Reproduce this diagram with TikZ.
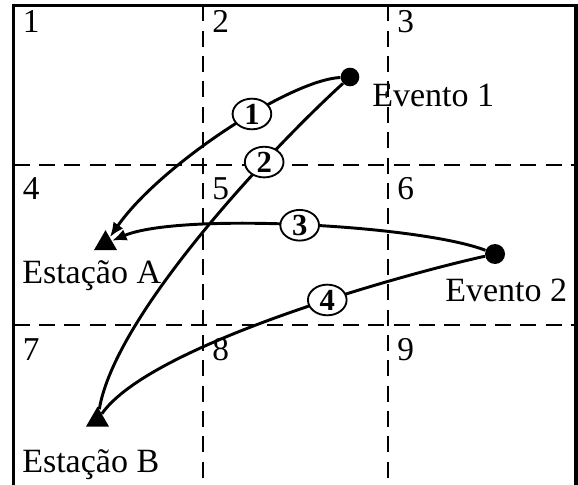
\documentclass[tikz,border=0pt]{standalone}
\usepackage{fontspec}
\setmainfont{Liberation Serif}
\usetikzlibrary{arrows.meta, positioning, calc, shapes.geometric}

\begin{document}
\begin{tikzpicture}[x=0.75pt,y=-0.75pt,
  frame/.style={line width=2.6pt},
  gridline/.style={line width=2.2pt,dash pattern=on 12pt off 7pt},
  evento/.style={circle,fill=black,inner sep=0pt,minimum size=14pt},
  estacao/.style={regular polygon,regular polygon sides=3,fill=black,
                  inner sep=0pt,minimum size=20pt},
  celltxt/.style={font=\fontsize{25}{29}\selectfont,anchor=base west,inner sep=0pt},
  nametxt/.style={font=\fontsize{25.5}{29}\selectfont,anchor=base west,inner sep=0pt},
  raio/.style={line width=2.2pt},
  raioarr/.style={raio,-{Latex[length=11pt,width=9pt]}},
  ordem/.style={ellipse,draw,fill=white,line width=1.4pt,inner sep=0pt,
                minimum width=29pt,minimum height=23pt,
                font=\fontsize{23}{23}\selectfont\bfseries}]

\useasboundingbox (0,0) rectangle (578,485);

% ===== grid of cells =====
\foreach \x in {203,388} \draw[gridline] (\x,5.5) -- (\x,490);
\foreach \y in {165,325} \draw[gridline] (13.5,\y) -- (576,\y);
\draw[frame] (13.5,490) |- (576,5.5) -- (576,490);

\foreach \cx [count=\i from 0] in {13.5,203,388}
  \foreach \by [count=\j from 0] in {33,199,360} {
    \pgfmathtruncatemacro\n{3*\j+\i+1}
    \node[celltxt] (c\n) at (\cx+9,\by) {\n};
  }

% ===== events and stations =====
\node[evento] (ev1) at (350,77) {};
\node[evento,minimum size=15pt] (ev2) at (495,254) {};
\node[estacao] (estA) at (105.5,243.5) {};
\node[estacao] (estB) at (97.5,420) {};

\node[nametxt] (tev1) at ($(ev1)+(22,29)$) {Evento 1};
\node[nametxt] (tev2) at ($(ev2)+(-50,47)$) {Evento 2};
\node[nametxt] (testA) at ($(estA)+(-83.5,39.5)$) {Estação A};
\node[nametxt] (testB) at ($(estB)+(-75.5,52)$) {Estação B};

% ===== rays =====
\draw[raioarr] (ev1) .. controls +(-60,3) and +(54.5,-78.5) .. (estA)
   node[ordem,pos=0.4] (o1) {1};
\draw[raio] (ev1) .. controls +(-80,73) and +(17.5,-105) .. (estB)
   node[ordem,pos=0.29] (o2) {2};
\draw[raioarr] (ev2) .. controls +(-75,-29) and +(74.5,-31.5) .. (estA)
   node[ordem,pos=0.5] (o3) {3};
\draw[raio] (ev2) .. controls +(-95,21) and +(52.5,-75) .. (estB)
   node[ordem,pos=0.4] (o4) {4};
\end{tikzpicture}
\end{document}
